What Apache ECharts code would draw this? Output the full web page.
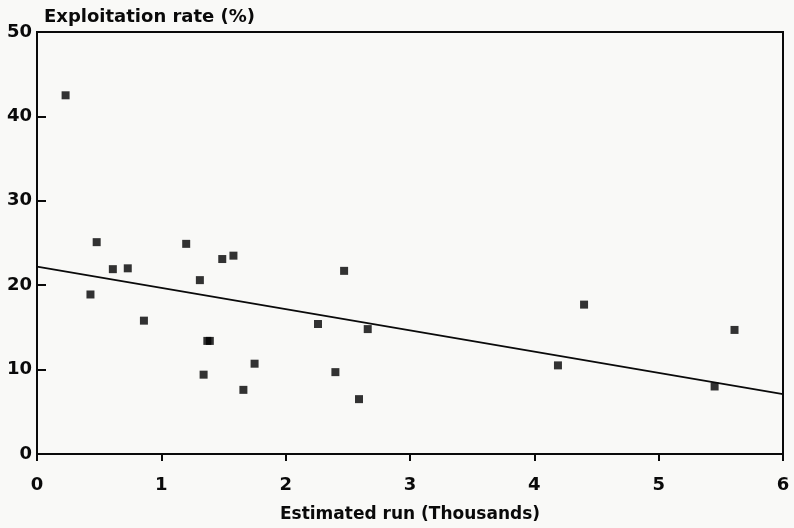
<!DOCTYPE html>
<html>
<head>
<meta charset="utf-8">
<script src="https://cdn.jsdelivr.net/npm/echarts@6/dist/echarts.min.js"></script>
<style>
  html, body { margin: 0; padding: 0; background: #f9f9f7; }
  #main-chart { width: 794px; height: 528px; }
</style>
</head>
<body>
<div id="main-chart"></div>
<script>
// Veriler
const runX = [0.23, 0.43, 0.48, 0.61, 0.73, 0.86, 1.20, 1.31, 1.34, 1.37, 1.39, 1.49, 1.58,
              1.66, 1.75, 2.26, 2.40, 2.47, 2.59, 2.66, 4.19, 4.40, 5.45, 5.61];
const rateY = [42.5, 18.9, 25.1, 21.9, 22.0, 15.8, 24.9, 20.6, 9.4, 13.4, 13.4, 23.1, 23.5,
               7.6, 10.7, 15.4, 9.7, 21.7, 6.5, 14.8, 10.5, 17.7, 8.0, 14.7];
// Regresyon çizgisi uç noktaları
const fitX = [0, 6];
const fitY = [22.2, 7.1];

const xTicks = [0, 1, 2, 3, 4, 5, 6];
const yTicks = [0, 10, 20, 30, 40, 50];

const font = "'DejaVu Sans', sans-serif";
const ink = '#0a0a0a';

const chart = echarts.init(document.getElementById('main-chart'));

chart.setOption({
    backgroundColor: '#f9f9f7',
    animation: false,
    title: {
        text: 'Exploitation rate (%)',
        left: 39,
        top: 3,
        textStyle: { fontFamily: font, fontWeight: 'bold', fontSize: 18, color: ink }
    },
    grid: {
        left: 37, right: 11, top: 32, bottom: 65,
        show: true, borderColor: ink, borderWidth: 2, backgroundColor: 'transparent'
    },
    xAxis: {
        type: 'value',
        min: xTicks[0], max: xTicks[xTicks.length - 1], interval: 1,
        name: 'Estimated run (Thousands)',
        nameLocation: 'middle',
        nameGap: 52,
        nameTextStyle: { fontFamily: font, fontWeight: 'bold', fontSize: 17, color: ink },
        axisLine: { show: true, lineStyle: { color: ink, width: 2 } },
        axisTick: { show: true, inside: false, length: 7, lineStyle: { color: ink, width: 2 } },
        axisLabel: {
            margin: 22, fontFamily: font, fontWeight: 'bold', fontSize: 18, color: ink,
            showMinLabel: true, showMaxLabel: true
        },
        splitLine: { show: false }
    },
    yAxis: {
        type: 'value',
        min: yTicks[0], max: yTicks[yTicks.length - 1], interval: 10,
        axisLine: { show: true, lineStyle: { color: ink, width: 2 } },
        axisTick: { show: true, inside: true, length: 9, lineStyle: { color: ink, width: 2 } },
        axisLabel: {
            margin: 5, fontFamily: font, fontWeight: 'bold', fontSize: 18, color: ink,
            showMinLabel: true, showMaxLabel: true
        },
        splitLine: { show: false }
    },
    series: [
        {
            type: 'scatter',
            data: runX.map((x, i) => [x, rateY[i]]),
            symbol: 'rect',
            symbolSize: 8,
            itemStyle: { color: '#000' }
        },
        {
            type: 'line',
            data: fitX.map((x, i) => [x, fitY[i]]),
            showSymbol: false,
            lineStyle: { color: ink, width: 1.8 }
        }
    ]
});
</script>
</body>
</html>
